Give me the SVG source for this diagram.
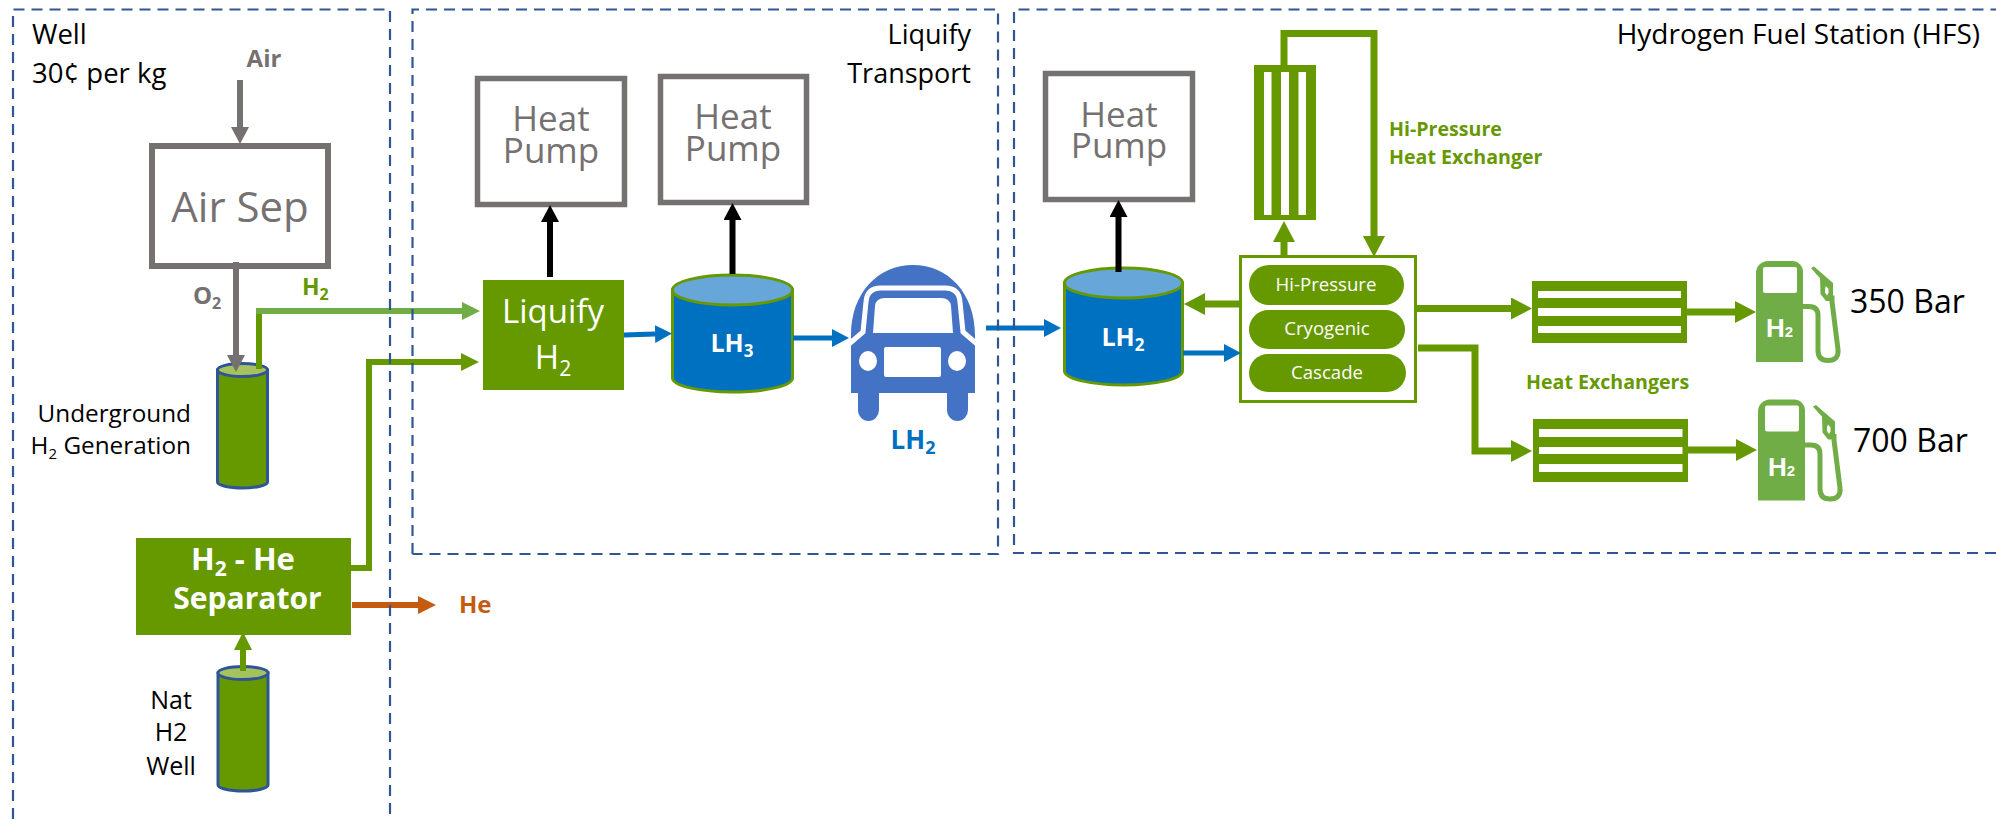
<svg xmlns="http://www.w3.org/2000/svg" xmlns:xlink="http://www.w3.org/1999/xlink" width="1996" height="819" viewBox="0 0 1996 819">
<style>
text{font-family:"Open Sans","Noto Sans","Liberation Sans",sans-serif;fill:#000}
.b{font-weight:700}
.mid{text-anchor:middle}
.end{text-anchor:end}
.pump{font-size:35px;fill:#767171;text-anchor:middle}
.gbox{fill:none;stroke:#767171;stroke-width:5.5}
.gl{font-size:19.6px;font-weight:700;fill:#669900}
.pill{fill:#669900}
.pt{font-size:18.6px;fill:#fff;text-anchor:middle}
.frame{fill:none;stroke:#2F5597;stroke-width:2.2;stroke-dasharray:11 7}
.cyl{fill:#669900;stroke:#2F5597;stroke-width:3}
.cyt{fill:#A5C25F;stroke:#2F5597;stroke-width:3}
.tank{fill:#0070C0;stroke:#669900;stroke-width:3}
.tkt{fill:#66A6D9;stroke:#669900;stroke-width:3}
.tkl{font-size:25px;font-weight:700;fill:#fff;text-anchor:middle}
.grey{stroke:#767171;stroke-width:6}
.dk{stroke:#669900;stroke-width:6}
.dk7{stroke:#669900;stroke-width:7}
.lt{stroke:#70AD47;stroke-width:6}
.bl{stroke:#0070C0;stroke-width:5}
.bk{stroke:#000;stroke-width:6}
.or{stroke:#C55A11;stroke-width:6}
</style>
<defs>
<marker id="mGrey" markerUnits="userSpaceOnUse" markerWidth="17" markerHeight="18" refX="0" refY="9" orient="auto"><path d="M0 0L17 9L0 18Z" fill="#767171"/></marker>
<marker id="mDk" markerUnits="userSpaceOnUse" markerWidth="18" markerHeight="18" refX="0" refY="9" orient="auto"><path d="M0 0L18 9L0 18Z" fill="#669900"/></marker>
<marker id="mDk7" markerUnits="userSpaceOnUse" markerWidth="21" markerHeight="22" refX="0" refY="11" orient="auto"><path d="M0 0L21 11L0 22Z" fill="#669900"/></marker>
<marker id="mLt" markerUnits="userSpaceOnUse" markerWidth="18" markerHeight="18" refX="0" refY="9" orient="auto"><path d="M0 0L18 9L0 18Z" fill="#70AD47"/></marker>
<marker id="mBl" markerUnits="userSpaceOnUse" markerWidth="17" markerHeight="18" refX="0" refY="9" orient="auto"><path d="M0 0L17 9L0 18Z" fill="#0070C0"/></marker>
<marker id="mBk" markerUnits="userSpaceOnUse" markerWidth="17" markerHeight="18" refX="0" refY="9" orient="auto"><path d="M0 0L17 9L0 18Z" fill="#000"/></marker>
<marker id="mOr" markerUnits="userSpaceOnUse" markerWidth="18" markerHeight="18" refX="0" refY="9" orient="auto"><path d="M0 0L18 9L0 18Z" fill="#C55A11"/></marker>
<g id="fuelPump">
<path d="M0 12a12 12 0 0 1 12-12h24a11 11 0 0 1 11 11v90H0Z" fill="#70AD47"/>
<rect x="7" y="6" width="34" height="26" rx="2" fill="#fff"/>
<path d="M47 45.500h6q9 0 9 9v35q0 10 10 10q11 0 10-11l-6-48v-6" fill="none" stroke="#70AD47" stroke-width="5"/>
<path d="M55 7l3-1.500l19 16.500v18h-7l-5.500-7l-.5-16l-3-3Z" fill="#70AD47"/>
<path d="M70 25l2.500 3v4l-1.500 2.500l-2-3v-4Z" fill="#fff"/>
<text x="10" y="76" class="b" style="font-size:26px;fill:#fff;font-family:'Liberation Sans',sans-serif">H<tspan font-size="15">2</tspan></text>
</g>
</defs>

<g id="node-well-label">
<text x="32" y="44" style="font-size:27.5px">Well</text>
<text x="32" y="83" style="font-size:27.5px">30¢ per kg</text>
</g>
<g id="node-air">
<text x="264" y="67" class="b mid" style="font-size:24px;fill:#767171">Air</text>
</g>
<g id="node-air-sep">
<rect x="152" y="146" width="176" height="120" fill="#fff" stroke="#767171" stroke-width="6"/>
<text x="240" y="222" class="mid" style="font-size:42px;fill:#767171">Air Sep</text>
</g>
<g id="node-o2-label">
<text x="193" y="304" class="b" style="font-size:24px;fill:#767171">O<tspan font-size="16" dy="5">2</tspan></text>
</g>
<g id="node-h2-label">
<text x="302" y="295" class="b" style="font-size:23px;fill:#669900">H<tspan font-size="16" dy="5">2</tspan></text>
</g>
<g id="node-underground">
<path class="cyl" d="M217.500 370v112a25 6 0 0 0 50 0V370Z"/>
<ellipse class="cyt" cx="242.500" cy="370" rx="25" ry="6.500"/>
<text x="191" y="422" class="end" style="font-size:24.300px">Underground</text>
<text x="191" y="454" class="end" style="font-size:24.300px">H<tspan font-size="15" dy="5">2</tspan><tspan dy="-5"> Generation</tspan></text>
</g>
<g id="node-separator">
<rect x="136" y="538" width="215" height="97" fill="#669900"/>
<text x="243" y="570" class="b mid" style="font-size:31px;fill:#fff">H<tspan font-size="21" dy="6">2</tspan><tspan dy="-6"> - He</tspan></text>
<text x="247.500" y="609" class="b mid" style="font-size:30px;fill:#fff">Separator</text>
</g>
<g id="node-he">
<text x="459" y="613" class="b" style="font-size:24px;fill:#C55A11">He</text>
</g>
<g id="node-nat-well">
<path class="cyl" d="M218 673v112a25 6 0 0 0 50 0V673Z"/>
<ellipse class="cyt" cx="243" cy="673" rx="25" ry="6.500"/>
<text x="171" y="709" class="mid" style="font-size:25px">Nat</text>
<text x="171" y="741" class="mid" style="font-size:25px">H2</text>
<text x="171" y="775" class="mid" style="font-size:25px">Well</text>
</g>

<g id="node-liquify-label">
<text x="971" y="44" class="end" style="font-size:27px">Liquify</text>
<text x="971" y="83" class="end" style="font-size:27px">Transport</text>
</g>
<g id="node-pump-1">
<rect class="gbox" x="477.500" y="78.500" width="147" height="126"/>
<text class="pump" x="551" y="131">Heat</text>
<text class="pump" x="551" y="163">Pump</text>
</g>
<g id="node-pump-2">
<rect class="gbox" x="660.500" y="76.500" width="146" height="126"/>
<text class="pump" x="733" y="129">Heat</text>
<text class="pump" x="733" y="161">Pump</text>
</g>
<g id="node-liquify">
<rect x="483" y="280" width="141" height="110" fill="#669900"/>
<text x="553" y="323" class="mid" style="font-size:33px;fill:#fff">Liquify</text>
<text x="553" y="369" class="mid" style="font-size:33px;fill:#fff">H<tspan font-size="21" dy="7">2</tspan></text>
</g>
<g id="node-lh3">
<path class="tank" d="M672.500 290v88a60 14 0 0 0 120 0V290Z"/>
<ellipse class="tkt" cx="732.500" cy="290" rx="60" ry="15"/>
<text class="tkl" x="732" y="352">LH<tspan font-size="17" dy="5">3</tspan></text>
</g>
<g id="node-truck">
<path d="M851 393V335C851 293 878 265 913 265C948 265 975 293 975 335V393H968V410A10.500 11 0 0 1 947 410V393H879V410A10.500 11 0 0 1 858 410V393Z" fill="#4472C4"/>
<path d="M849 344L863 332L866 302Q867 288 881 288H945Q959 288 960 302L963 332L977 344" fill="none" stroke="#fff" stroke-width="5"/>
<path d="M873 333L875 306Q876 298 885 298H941Q950 298 951 306L953 333Z" fill="#fff"/>
<ellipse cx="868" cy="361" rx="9" ry="10" fill="#fff"/>
<ellipse cx="957" cy="361" rx="9" ry="10" fill="#fff"/>
<rect x="884" y="347" width="57" height="30" rx="2" fill="#fff"/>
<text x="913" y="449" class="b mid" style="font-size:26px;fill:#0070C0">LH<tspan font-size="18" dy="5">2</tspan></text>
</g>

<g id="node-hfs-label">
<text x="1980" y="44" class="end" style="font-size:28px">Hydrogen Fuel Station (HFS)</text>
</g>
<g id="node-pump-3">
<rect class="gbox" x="1045.500" y="73.500" width="147" height="126"/>
<text class="pump" x="1119" y="127">Heat</text>
<text class="pump" x="1119" y="158">Pump</text>
</g>
<g id="node-lh2">
<path class="tank" d="M1064.500 283v88a59 14 0 0 0 118 0V283Z"/>
<ellipse class="tkt" cx="1123.500" cy="283" rx="59" ry="15"/>
<text class="tkl" x="1123" y="346">LH<tspan font-size="17" dy="5">2</tspan></text>
</g>
<g id="node-hp-exchanger">
<rect x="1254" y="65" width="62" height="155" fill="#669900"/>
<rect x="1264" y="72" width="7.500" height="143" fill="#fff"/>
<rect x="1281" y="72" width="8" height="143" fill="#fff"/>
<rect x="1298.500" y="72" width="7.500" height="143" fill="#fff"/>
<text class="gl" x="1389" y="136">Hi-Pressure</text>
<text class="gl" x="1389" y="164">Heat Exchanger</text>
</g>
<g id="node-compressor">
<rect x="1240.500" y="256.500" width="175" height="145" fill="#fff" stroke="#669900" stroke-width="3"/>
<rect class="pill" x="1249" y="265" width="155" height="40" rx="20"/>
<rect class="pill" x="1249" y="310" width="156" height="39" rx="19.500"/>
<rect class="pill" x="1249" y="354" width="157" height="38" rx="19"/>
<text class="pt" x="1326" y="291">Hi-Pressure</text>
<text class="pt" x="1327" y="335">Cryogenic</text>
<text class="pt" x="1327" y="379">Cascade</text>
</g>
<g id="node-hx-1">
<rect x="1532" y="281" width="155" height="62" fill="#669900"/>
<rect x="1538" y="291" width="143" height="7" fill="#fff"/>
<rect x="1538" y="308" width="143" height="8" fill="#fff"/>
<rect x="1538" y="326" width="143" height="7" fill="#fff"/>
</g>
<g id="node-hx-label">
<text class="gl" x="1526" y="389">Heat Exchangers</text>
</g>
<g id="node-hx-2">
<rect x="1533" y="419" width="155" height="63" fill="#669900"/>
<rect x="1539" y="429" width="143.500" height="8" fill="#fff"/>
<rect x="1539" y="447" width="143.500" height="7" fill="#fff"/>
<rect x="1539" y="464" width="143.500" height="8" fill="#fff"/>
</g>
<g id="node-station-350">
<use href="#fuelPump" x="1756" y="261"/>
<text x="1850" y="313" style="font-size:32px">350 Bar</text>
</g>
<g id="node-station-700">
<use href="#fuelPump" x="1758" y="399.500"/>
<text x="1853" y="452" style="font-size:32px">700 Bar</text>
</g>

<g id="connectors" fill="none">
<path class="grey" d="M240 80V127" marker-end="url(#mGrey)"/>
<path class="grey" d="M236 262V355" marker-end="url(#mGrey)"/>
<path class="dk" d="M259 369V311"/>
<path class="lt" d="M256 311H462" marker-end="url(#mLt)"/>
<path class="dk" d="M351 568H369V362H461" marker-end="url(#mDk)"/>
<path class="or" d="M352 605H418" marker-end="url(#mOr)"/>
<path class="dk" d="M243 671V650" marker-end="url(#mDk)"/>
<path class="bk" d="M550 277V222" marker-end="url(#mBk)"/>
<path class="bk" d="M732.500 274V220" marker-end="url(#mBk)"/>
<path class="bk" d="M1118.500 272V217" marker-end="url(#mBk)"/>
<path class="bl" d="M624 335L655 334" marker-end="url(#mBl)"/>
<path class="bl" d="M793 338H832" marker-end="url(#mBl)"/>
<path class="bl" d="M986 328H1044" marker-end="url(#mBl)"/>
<path class="bl" d="M1183 353H1224" marker-end="url(#mBl)"/>
<path class="dk7" d="M1239 304H1205" marker-end="url(#mDk7)"/>
<path class="dk7" d="M1284 256V242" marker-end="url(#mDk7)"/>
<path class="dk7" d="M1284 65V33.500H1374V236" marker-end="url(#mDk7)"/>
<path class="dk7" d="M1417 308.500H1511" marker-end="url(#mDk7)"/>
<path class="dk7" d="M1418 348H1475V451H1511" marker-end="url(#mDk7)"/>
<path class="dk7" d="M1687 312H1735" marker-end="url(#mDk7)"/>
<path class="dk7" d="M1688 450H1736" marker-end="url(#mDk7)"/>
</g>

<g id="frames">
<path class="frame" d="M13 819V9.500H390V819"/>
<path class="frame" d="M412.500 554V9.500H998V554H412.500"/>
<path class="frame" d="M1996 553H1014V9.500H1996"/>
</g>
</svg>
